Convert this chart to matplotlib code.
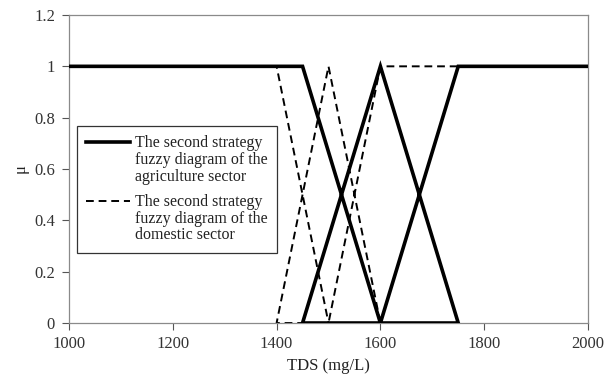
import matplotlib
matplotlib.use("Agg")
import matplotlib.pyplot as plt
from matplotlib.legend_handler import HandlerLine2D
import numpy as np

plt.rcParams['font.family'] = ['Liberation Serif', 'DejaVu Serif']

# Data
agri_x = [1000, 1450, 1600, 1450, 1600, 1750, 1600, 1750, 2000]
agri_y = [1, 1, 0, 0, 1, 0, 0, 1, 1]
dom_x = [1000, 1400, 1500, 1400, 1500, 1600, 1500, 1600, 2000]
dom_y = [1, 1, 0, 0, 1, 0, 0, 1, 1]
xticks = [1000, 1200, 1400, 1600, 1800, 2000]
yticks = [0, 0.2, 0.4, 0.6, 0.8, 1, 1.2]
ytick_labels = ["0", "0.2", "0.4", "0.6", "0.8", "1", "1.2"]
labels = ["The second strategy\nfuzzy diagram of the\nagriculture sector",
          "The second strategy\nfuzzy diagram of the\ndomestic sector"]


class TopHandler(HandlerLine2D):
    def __init__(self, offset, **kw):
        super().__init__(**kw)
        self.offset = offset

    def create_artists(self, legend, orig_handle, xdescent, ydescent,
                       width, height, fontsize, trans):
        arts = super().create_artists(legend, orig_handle, xdescent, ydescent,
                                      width, height, fontsize, trans)
        for a in arts:
            yd = np.asarray(a.get_ydata(), dtype=float)
            a.set_ydata(yd + self.offset)
        return arts


fig = plt.figure(figsize=(6.13, 3.83), dpi=100)
ax = fig.add_axes([69 / 613, 1 - 323 / 383, 519 / 613, 308 / 383])

l1, = ax.plot(agri_x, agri_y, color='black', lw=2.6, solid_joinstyle='miter',
              label=labels[0], zorder=3)
l2, = ax.plot(dom_x, dom_y, color='black', lw=1.4, ls=(0, (4, 2.5)),
              label=labels[1], zorder=2)

ax.set_xlim(1000, 2000)
ax.set_ylim(0, 1.2)
ax.set_xticks(xticks)
ax.set_yticks(yticks)
ax.set_yticklabels(ytick_labels)
ax.tick_params(axis='both', direction='out', length=5, width=0.8,
               labelsize=12, colors='#555555', labelcolor='#333333')
ax.tick_params(axis='y', pad=5)
ax.tick_params(axis='x', pad=4)
for s in ax.spines.values():
    s.set_color('#8a8a8a')
    s.set_linewidth(0.9)

ax.set_xlabel("TDS (mg/L)", fontsize=12, color='#222222', labelpad=5)
ax.set_ylabel("μ", fontsize=12, color='#222222', labelpad=4)

leg = ax.legend(handles=[l1, l2], loc='upper left',
                bbox_to_anchor=(0.015, 0.64), fontsize=11.5,
                handlelength=2.75, handletextpad=0.3, labelspacing=0.6,
                borderpad=0.6, borderaxespad=0, frameon=True, fancybox=False,
                edgecolor='#333333', framealpha=1,
                handler_map={l1: TopHandler(13.2), l2: TopHandler(13.2)})
leg.get_frame().set_linewidth(0.9)
for t in leg.get_texts():
    t.set_color('#222222')
    t.set_linespacing(1.05)

fig.savefig("out.png", dpi=100)
